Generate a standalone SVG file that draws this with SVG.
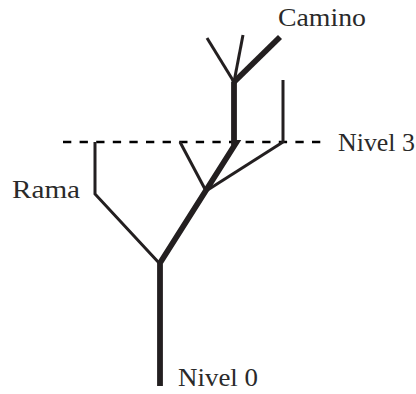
<svg xmlns="http://www.w3.org/2000/svg" width="416" height="394" viewBox="0 0 416 394">
<style>
.thin{fill:none;stroke:#231f20;stroke-width:3;stroke-linecap:butt;stroke-linejoin:miter}
.thick{fill:none;stroke:#231f20;stroke-width:5.8;stroke-linecap:butt;stroke-linejoin:miter}
.dash{fill:none;stroke:#000;stroke-width:2.4;stroke-dasharray:8.3 8.3}
.lbl{font-family:"Liberation Serif","Times New Roman",serif;font-size:25.5px;fill:#2a2a2a}
</style>
<rect width="416" height="394" fill="#fff"/>
<g id="connectors">
<line class="dash" x1="63" y1="142" x2="323" y2="142"/>
<polyline class="thin" points="160,264 95,194 95,142"/>
<line class="thin" x1="206" y1="191" x2="180" y2="142"/>
<line class="thin" x1="206" y1="191" x2="283" y2="142"/>
<line class="thin" x1="283" y1="143" x2="283" y2="80"/>
<line class="thin" x1="234" y1="82" x2="207" y2="38"/>
<line class="thin" x1="234" y1="82" x2="243" y2="35"/>
<polyline class="thick" points="160,386 160,263 236,143 234,143 234,82"/>
<line class="thick" x1="233" y1="83" x2="280" y2="37"/>
</g>
<g id="camino"><text class="lbl" x="278" y="26" textLength="88" lengthAdjust="spacingAndGlyphs">Camino</text></g>
<g id="nivel3"><text class="lbl" x="338" y="151" textLength="77" lengthAdjust="spacingAndGlyphs">Nivel 3</text></g>
<g id="rama"><text class="lbl" x="12" y="198" textLength="68" lengthAdjust="spacingAndGlyphs">Rama</text></g>
<g id="nivel0"><text class="lbl" x="178" y="386" textLength="80" lengthAdjust="spacingAndGlyphs">Nivel 0</text></g>
</svg>
